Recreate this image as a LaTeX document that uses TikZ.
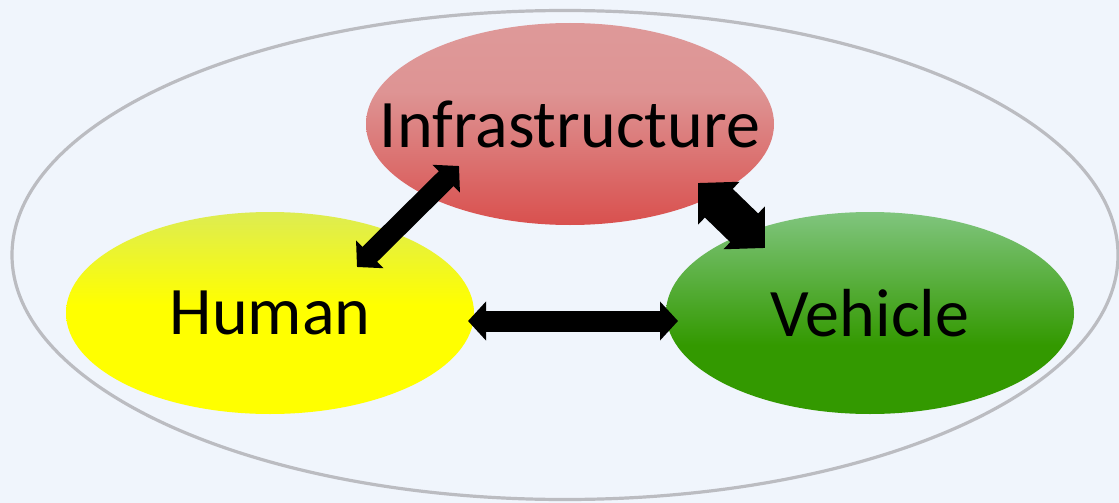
\documentclass[tikz,border=0pt]{standalone}
\usepackage{fontspec}
\setmainfont{Carlito}
\usepackage{xcolor}
\usepackage{tikz}
\usetikzlibrary{shapes.geometric, arrows.meta, calc}

\definecolor{bgblue}{RGB}{240,245,252}
\definecolor{ringgray}{RGB}{187,188,193}
\definecolor{infratop}{RGB}{222,153,153}
\definecolor{infrabot}{RGB}{217,80,78}
\definecolor{humantop}{RGB}{221,236,82}
\definecolor{humanbot}{RGB}{255,255,0}
\definecolor{vehtop}{RGB}{128,197,126}
\definecolor{vehbot}{RGB}{51,153,0}

\pgfdeclareverticalshading{infrashade}{100bp}{color(0bp)=(infrabot); color(25bp)=(infrabot); color(58bp)=(infratop!93!infrabot); color(75bp)=(infratop); color(100bp)=(infratop)}
\pgfdeclareverticalshading{humanshade}{100bp}{color(0bp)=(humanbot); color(25bp)=(humanbot); color(52bp)=(humanbot); color(75bp)=(humantop); color(100bp)=(humantop)}
\pgfdeclareverticalshading{vehshade}{100bp}{color(0bp)=(vehbot); color(25bp)=(vehbot); color(42bp)=(vehbot); color(75bp)=(vehtop); color(100bp)=(vehtop)}

\begin{document}
\begin{tikzpicture}[x=1pt, y=-1pt,
  blob/.style={ellipse, minimum width=408pt, minimum height=202pt, inner sep=0pt, font=\fontsize{68}{80}\selectfont},
  link/.style={line width=21pt, {Triangle[length=18pt, width=38pt]}-{Triangle[length=18pt, width=38pt]}},
  biglink/.style={line width=40pt, {Triangle[length=29pt, width=58pt]}-{Triangle[length=29pt, width=58pt]}}]

%//background and the outer ring
\fill[bgblue] (0,0) rectangle (1119,503);
\useasboundingbox (0,0) rectangle (1119,503);
\node[ellipse, draw=ringgray, line width=3.2pt, minimum width=1106pt, minimum height=489pt] (system) at (565,255) {};

%//the three parts
\foreach \name/\pos/\shade/\txt in {infra/{570,124}/infrashade/Infrastructure, human/{270,313}/humanshade/Human, vehicle/{870,313}/vehshade/Vehicle}
\node[blob, shading=\shade] (\name) at (\pos) {\makebox[0pt]{\txt}};

%//links
\draw[link] ([shift={(-111,42)}]infra.center) -- ([shift={(87,-46)}]human.center);
\draw[biglink] ([shift={(128,59)}]infra.center) -- ([shift={(-105,-65)}]vehicle.center);
\draw[link] ([shift={(198,8)}]human.center) -- ([shift={(-192,8)}]vehicle.center);
\end{tikzpicture}
\end{document}
